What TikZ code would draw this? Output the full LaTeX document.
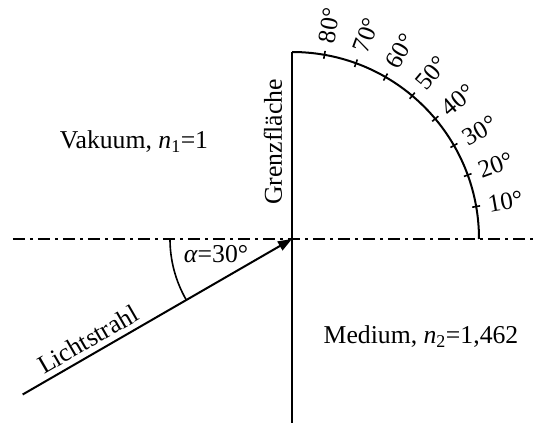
\documentclass[tikz,border=0pt]{standalone}
\usepackage{fontspec}
\setmainfont{Liberation Serif}
\usetikzlibrary{arrows.meta}

\begin{document}
\begin{tikzpicture}[x=1pt, y=1pt,
    lbl/.style={font=\fontsize{25.7}{30}\selectfont, inner sep=2pt},
    deg/.style={font=\fontsize{25}{28}\selectfont, inner sep=2pt, anchor=west},
    axis/.style={line width=2.2pt, dash pattern=on 12pt off 5pt on 3pt off 5pt},
    ray/.style={-{Triangle[length=14pt, width=10pt]}, line width=2pt},
  ]
  \useasboundingbox (-292,-184) rectangle (241,239);
  \coordinate (O) at (0,0);
  \coordinate (top) at (0,187);
  \coordinate (bot) at (0,-184);
  \coordinate (axL) at (-279,0);
  \coordinate (axR) at (241,0);
  \coordinate (src) at (210:311);

  \draw[axis] (axL) -- (axR);
  \draw[line width=2.8pt] (bot) -- (top);
  \draw[line width=2pt] (top) arc[start angle=90, end angle=0, radius=187];
  \foreach \a in {10,20,...,80} {
    \draw[line width=1.6pt] (\a:183) -- (\a:191);
    \node[deg, rotate=\a] (d\a) at (\a:197) {\a°};
  }

  \draw[line width=1.6pt] (180:122) arc[start angle=180, end angle=210, radius=122];
  \draw[ray] (src) -- node[lbl, sloped, above=3pt, pos=0.27] (strahl) {Lichtstrahl} (O);

  \node[lbl] (alpha) at (-76,-15) {\textit{α}=30°};
  \node[lbl] (vak) at (-158,97) {Vakuum, \textit{n}\textsubscript{1}=1};
  \node[lbl, rotate=90] (grenz) at (-19,97) {Grenzfläche};
  \node[lbl] (med) at (129,-98) {Medium, \textit{n}\textsubscript{2}=1,462};
\end{tikzpicture}
\end{document}
